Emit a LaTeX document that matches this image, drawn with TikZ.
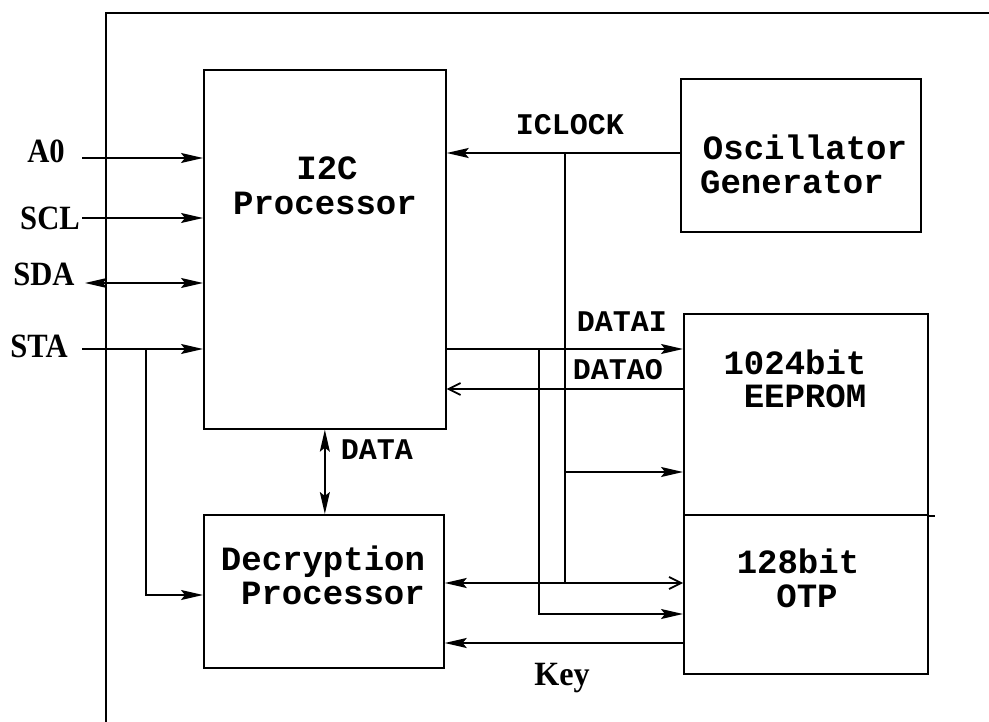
\documentclass[tikz,border=0pt]{standalone}
\usepackage{fontspec}
\setmainfont{Liberation Serif}
\setmonofont{Liberation Mono}
\usetikzlibrary{arrows.meta}
\begin{document}
\begin{tikzpicture}[x=1pt,y=-1pt,
  box/.style={draw, line width=1.7pt, inner sep=0pt, anchor=north west},
  wire/.style={line width=1.7pt},
  tip/.style={-{Stealth[length=22pt,width=10pt,inset=4pt]}},
  bitip/.style={{Stealth[length=22pt,width=10pt,inset=4pt]}-{Stealth[length=22pt,width=10pt,inset=4pt]}},
  barb/.style={-{Straight Barb[length=12pt,width=12pt,line width=1.7pt]}},
  big/.style={font=\ttfamily\bfseries\fontsize{34}{36}\selectfont, inner sep=0pt, anchor=base},
  small/.style={font=\ttfamily\bfseries\fontsize{30}{32}\selectfont, inner sep=0pt, anchor=base},
  pin/.style={font=\bfseries\fontsize{34}{36}\selectfont, inner sep=0pt, anchor=base, xscale=.9},
]
\useasboundingbox (0,0) rectangle (989,722);
% outer frame
\coordinate (fbl) at (106,722);
\coordinate (ftl) at (106,13);
\coordinate (ftr) at (989,13);
\draw[wire] (fbl) -- (ftl) -- (ftr);
% boxes
\node[box, minimum width=242pt, minimum height=359pt] (i2c) at (203,69) {};
\node[box, minimum width=240pt, minimum height=153pt] (osc) at (680,78) {};
\node[box, minimum width=244pt, minimum height=201pt] (eeprom) at (683,313) {};
\node[box, minimum width=244pt, minimum height=159pt] (otp) at (683,514) {};
\node[box, minimum width=240pt, minimum height=153pt] (dec) at (203,514) {};
\draw[wire] (eeprom.south east) -- ++(6,0);
% box texts
\node[big] (t1) at (327,180) {I2C};
\node[big] (t2) at (325,215) {Processor};
\node[big] (t3) at (805,160) {Oscillator};
\node[big] (t4) at (792,194) {Generator};
\node[big] (t5) at (795,374) {1024bit};
\node[big] (t6) at (805,407) {EEPROM};
\node[big] (t7) at (798,573) {128bit};
\node[big] (t8) at (807,607) {OTP};
\node[big] (t9) at (323,570) {Decryption};
\node[big] (t10) at (333,604) {Processor};
% signal labels
\node[small] (lclk) at (570,135) {ICLOCK};
\node[small] (ldi) at (622,332) {DATAI};
\node[small] (ldo) at (618,379) {DATAO};
\node[small] (ldata) at (377,459) {DATA};
\node[pin, xscale=1.05] (lkey) at (562,685) {Key};
\node[pin] (la0) at (46,163) {A0};
\node[pin] (lscl) at (50,230) {SCL};
\node[pin] (lsda) at (44,286) {SDA};
\node[pin] (lsta) at (39,358) {STA};
% pin wires
\coordinate (a0) at (82,158);
\coordinate (scl) at (82,218);
\coordinate (sda) at (85,283);
\coordinate (sta) at (82,349);
\coordinate (stab) at (146,349);
\coordinate (stad) at (0,595);
\draw[wire,tip] (a0) -- (a0 -| i2c.west);
\draw[wire,tip] (scl) -- (scl -| i2c.west);
\draw[wire,bitip] (sda) -- (sda -| i2c.west);
\draw[wire,tip] (sta) -- (sta -| i2c.west);
\draw[wire,tip] (stab) |- (dec.west |- stad);
% clock
\coordinate (clk) at (0,153);
\coordinate (clkv) at (565,153);
\coordinate (clkb) at (565,583);
\coordinate (clke) at (565,472);
\draw[wire,tip] (osc.west |- clk) -- (i2c.east |- clk);
\draw[wire] (clkv) -- (clkb);
\draw[wire,tip] (clke) -- (eeprom.west |- clke);
\draw[wire,{Stealth[length=22pt,width=10pt,inset=4pt]}-{Straight Barb[length=12pt,width=12pt,line width=1.7pt]}] (dec.east |- clkb) -- (otp.west |- clkb);
% data
\coordinate (di) at (0,349);
\coordinate (div) at (539,349);
\coordinate (dio) at (0,614);
\coordinate (do) at (0,389);
\coordinate (key) at (0,643);
\draw[wire,tip] (i2c.east |- di) -- (eeprom.west |- di);
\draw[wire,tip] (div) |- (otp.west |- dio);
\draw[wire,barb] (eeprom.west |- do) -- (i2c.east |- do);
\draw[wire,bitip] (i2c.south) -- (i2c.south |- dec.north);
\draw[wire,tip] (otp.west |- key) -- (dec.east |- key);
\end{tikzpicture}
\end{document}
